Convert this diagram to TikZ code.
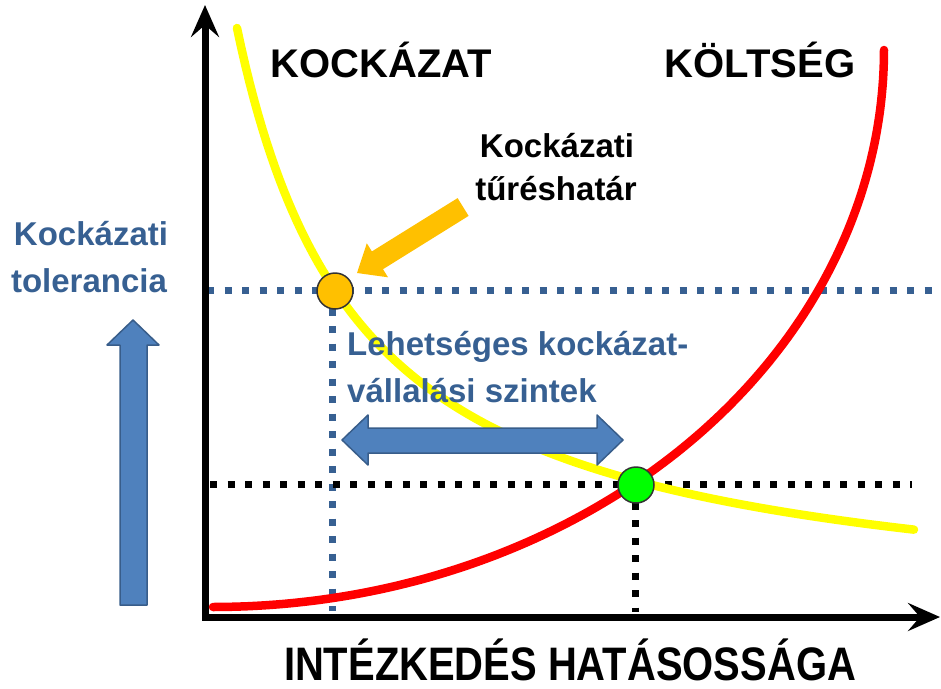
\documentclass[tikz,border=0pt]{standalone}
\usepackage{fontspec}
\usepackage{graphicx}
\setmainfont{Liberation Sans}
\usetikzlibrary{arrows.meta}
\definecolor{txtblue}{RGB}{55,96,146}
\definecolor{arrowfill}{RGB}{79,129,189}
\definecolor{arrowline}{RGB}{56,93,138}
\definecolor{orangeA}{RGB}{255,192,0}
\definecolor{greenA}{RGB}{0,255,0}
\definecolor{yellowA}{RGB}{255,255,0}
\definecolor{redA}{RGB}{255,0,0}
\begin{document}
\begin{tikzpicture}[x=1pt,y=-1pt,
  axisline/.style={line width=7pt, line join=miter,
    {Stealth[length=32pt,width=28pt,inset=12pt]}-{Stealth[length=32pt,width=28pt,inset=12pt]}},
  dots/.style={line width=7pt, dash pattern=on 7pt off 10.5pt},
  curve/.style={line width=8.5pt, line cap=round},
  bigtitle/.style={font=\fontsize{40}{48}\selectfont\bfseries, inner sep=0pt, anchor=base},
  lbl/.style={font=\fontsize{33}{40}\selectfont\bfseries, inner sep=0pt, anchor=base},
  marker/.style={circle, draw=black!80, line width=1.5pt, minimum size=36pt, inner sep=0pt},
  blockarrow/.style={fill=arrowfill, draw=arrowline, line width=1.5pt, line join=round}
]
\useasboundingbox (0,0) rectangle (941,688);

% guide lines
\coordinate (bh1) at (207,290);
\coordinate (bh2) at (941,290);
\coordinate (bv1) at (332,291);
\coordinate (bv2) at (332,611);
\coordinate (kh1) at (210,484);
\coordinate (kh2) at (912,484);
\coordinate (kv1) at (635,485);
\coordinate (kv2) at (635,612);
\draw[dots, txtblue] (bh1) -- (bh2);
\draw[dots, txtblue] (bv1) -- (bv2);
\draw[dots, black] (kh1) -- (kh2);
\draw[dots, black] (kv1) -- (kv2);

% axes
\coordinate (ytop) at (205,5);
\coordinate (xend) at (940,617);
\draw[axisline] (ytop) |- (xend);

% curves
\draw[curve, redA] plot[domain=0:90, samples=120] ({213+671*sin(\x)},{50+557*cos(\x)});
\draw[curve, yellowA] plot[domain=237:914, samples=160] (\x,{621.5-735.94/((\x-113)/100)});

% blue double arrow
\draw[blockarrow] (342,440) -- (368,415) -- (368,428) -- (597,428) -- (597,415) -- (623,440)
  -- (597,465) -- (597,453) -- (368,453) -- (368,465) -- cycle;

% blue up arrow
\draw[blockarrow] (133,320) -- (159,345) -- (147,345) -- (147,605) -- (120,605) -- (120,345) -- (107,345) -- cycle;

% orange arrow
\fill[orangeA] (357,273) -- (388,277.3) -- (383,269.2) -- (468.6,215.9) -- (457.6,198.1)
  -- (371.9,251.4) -- (366.8,243.3) -- cycle;

% markers
\node[marker, fill=orangeA] (tolpt) at (335,291) {};
\node[marker, fill=greenA] (eqpt) at (636,485) {};

% texts
\node[bigtitle] (kock) at (381.5,77) {KOCKÁZAT};
\node[bigtitle] (kolt) at (760,77) {KÖLTSÉG};
\node[lbl] (tur1) at (557,157) {Kockázati};
\node[lbl] (tur2) at (556,200) {tűréshatár};
\node[lbl, text=txtblue] (tol1) at (91,245) {Kockázati};
\node[lbl, text=txtblue] (tol2) at (89,292) {tolerancia};
\node[lbl, text=txtblue, anchor=base west] (leh1) at (347,355) {Lehetséges kockázat-};
\node[lbl, text=txtblue, anchor=base west] (leh2) at (347,402) {vállalási szintek};
\node[font=\fontsize{47}{56}\selectfont\bfseries, inner sep=0pt, anchor=base] (xlab) at (570,680)
  {\scalebox{0.85}[1]{INTÉZKEDÉS HATÁSOSSÁGA}};
\end{tikzpicture}
\end{document}
